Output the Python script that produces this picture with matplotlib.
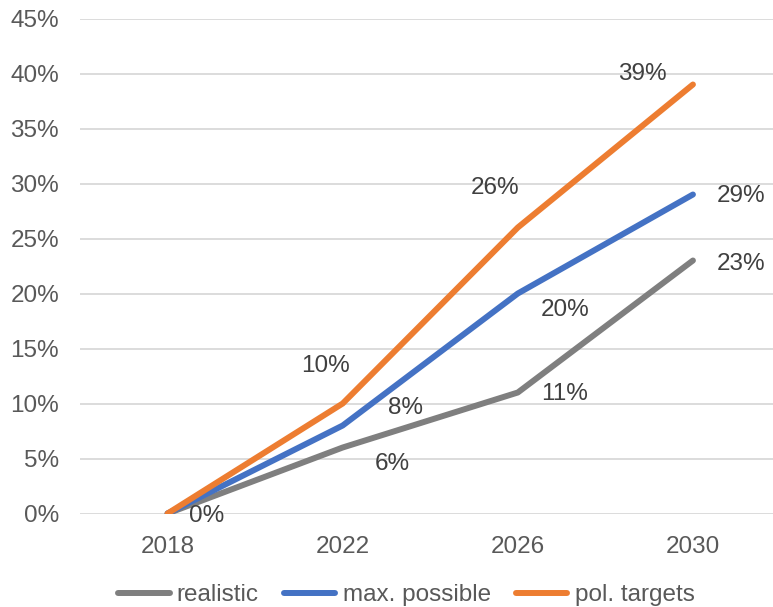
import matplotlib
matplotlib.use("Agg")
import matplotlib.pyplot as plt

plt.rcParams['font.family'] = ['Liberation Sans', 'DejaVu Sans']

years = ["2018", "2022", "2026", "2030"]
realistic = [0, 6, 11, 23]
max_possible = [0, 8, 20, 29]
pol_targets = [0, 10, 26, 39]
series_names = ["realistic", "max. possible", "pol. targets"]
yticks = [0, 5, 10, 15, 20, 25, 30, 35, 40, 45]

colors = ["#7F7F7F", "#4472C4", "#ED7D31"]
text_color = "#595959"
fs = 17.5

# label offsets in pixels (dx, dy); None = label hidden
offsets = [
    [(39, -2), (50, -16), (47, -2), (48, -3)],
    [None, (63, 17), (47, -17), (48, -2)],
    [None, (-17, 38), (-23, 40), (-51, 11)],
]

fig = plt.figure(figsize=(7.73, 6.07), dpi=100)
ax = fig.add_axes([80 / 773, 93.5 / 607, 700.5 / 773, 495 / 607])

x = list(range(len(years)))
all_series = [realistic, max_possible, pol_targets]
lines = []
for vals, col, name in zip(all_series, colors, series_names):
    ln, = ax.plot(x, vals, color=col, lw=4.3, solid_capstyle='round', label=name, zorder=3)
    lines.append(ln)

for vals, offs in zip(all_series, offsets):
    for xi, v, off in zip(x, vals, offs):
        if off is None:
            continue
        ax.annotate(f"{v}%", (xi, v), xytext=off, textcoords='offset pixels',
                    ha='center', va='center', fontsize=fs, color="#404040", zorder=4)

ax.set_xlim(-0.5, 3.5)
ax.set_ylim(0, 45)
ax.set_yticks(yticks)
ax.set_yticklabels([f"{t}%" for t in yticks])
ax.set_xticks(x)
ax.set_xticklabels(years)
ax.tick_params(axis='both', length=0, labelsize=fs, labelcolor=text_color)
ax.tick_params(axis='y', pad=15)
ax.tick_params(axis='x', pad=16)
ax.grid(axis='y', color="#D9D9D9", lw=1.3)
ax.set_axisbelow(True)
for s in ax.spines.values():
    s.set_visible(False)

leg = fig.legend(handles=lines, loc='center', bbox_to_anchor=(0.5 + 20 / 773, 1 - 595 / 607),
                 ncol=3, frameon=False, fontsize=fs, handlelength=2.1,
                 handletextpad=0.3, columnspacing=1.05)
for t in leg.get_texts():
    t.set_color(text_color)

fig.savefig("out.png", dpi=100)
